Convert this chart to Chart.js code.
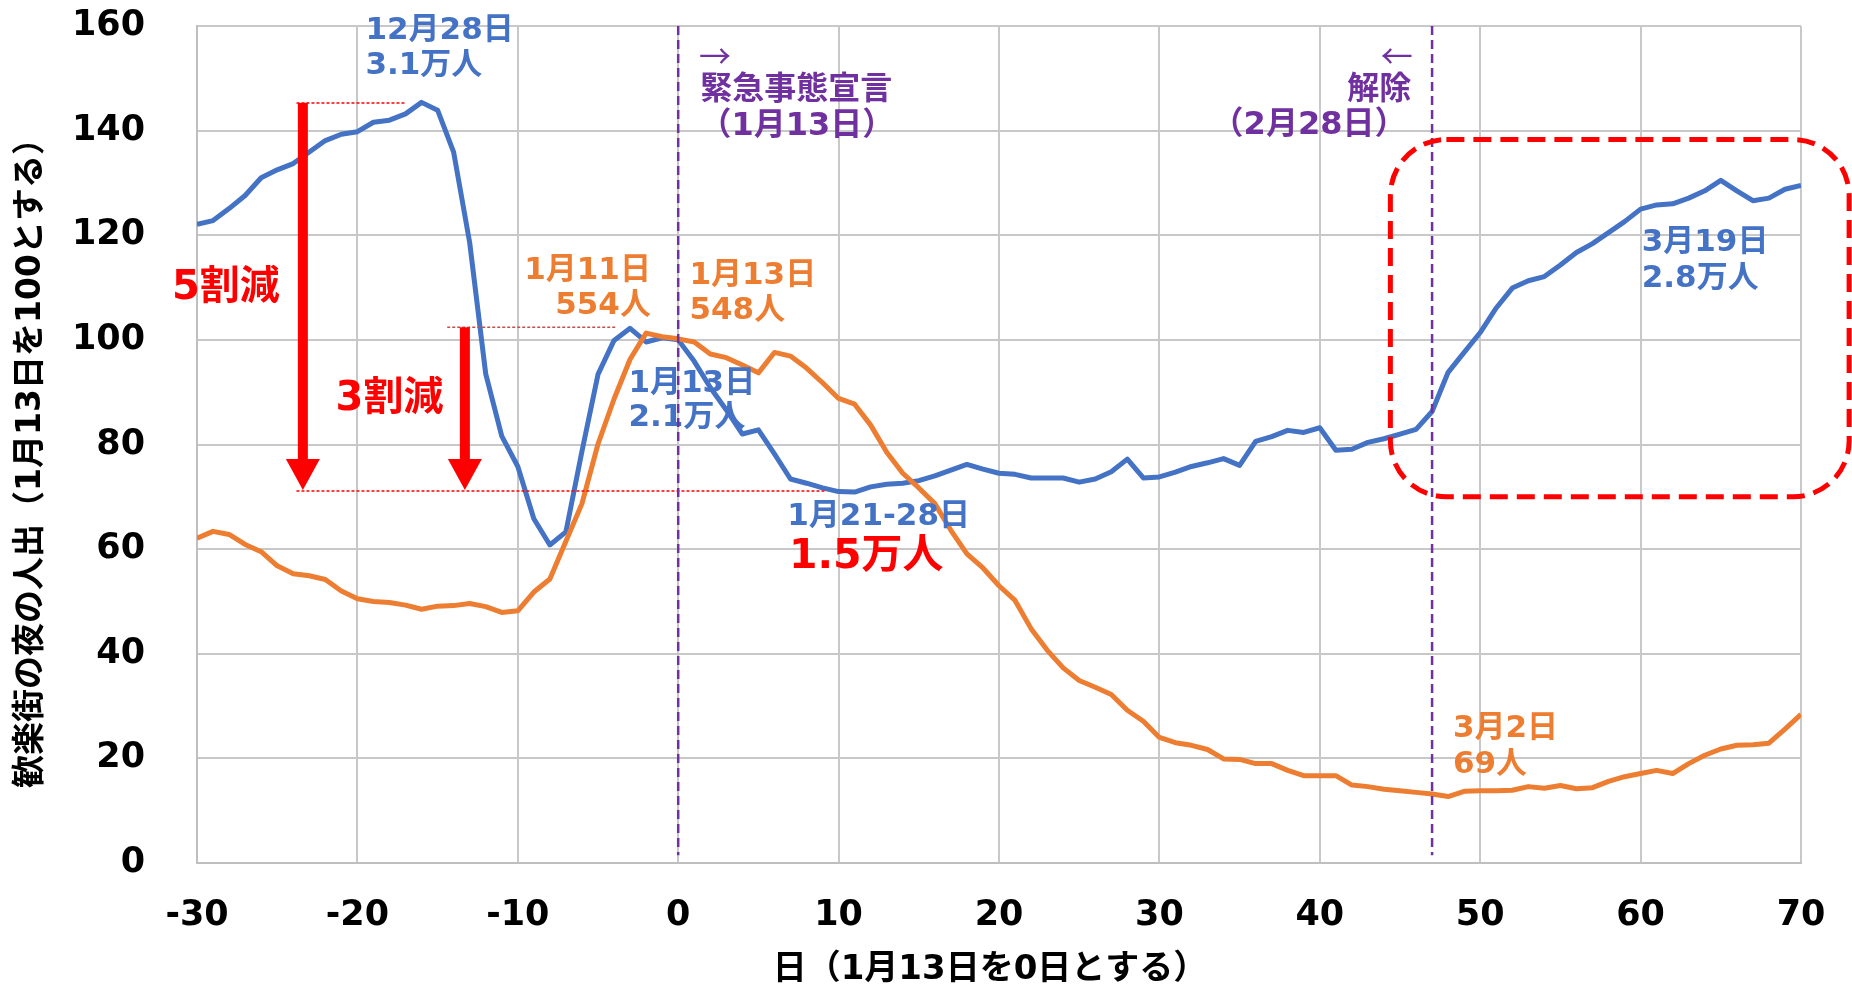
<!DOCTYPE html>
<html>
<head>
<meta charset="utf-8">
<script src="https://cdn.jsdelivr.net/npm/chart.js@4.4.0/dist/chart.umd.min.js"></script>
<style>
  html, body { margin: 0; padding: 0; background: #fff; }
</style>
</head>
<body>
<canvas id="nightChart" width="1852" height="989"></canvas>
<script>
// days relative to Jan 13 (day 0)
const days = [
  -30, -29, -28, -27, -26, -25, -24, -23, -22, -21,
  -20, -19, -18, -17, -16, -15, -14, -13, -12, -11,
  -10, -9, -8, -7, -6, -5, -4, -3, -2, -1,
  0, 1, 2, 3, 4, 5, 6, 7, 8, 9,
  10, 11, 12, 13, 14, 15, 16, 17, 18, 19,
  20, 21, 22, 23, 24, 25, 26, 27, 28, 29,
  30, 31, 32, 33, 34, 35, 36, 37, 38, 39,
  40, 41, 42, 43, 44, 45, 46, 47, 48, 49,
  50, 51, 52, 53, 54, 55, 56, 57, 58, 59,
  60, 61, 62, 63, 64, 65, 66, 67, 68, 69,
  70
];

// blue: night crowd (index, Jan 13 = 100)
const crowdIndex = [
  122.1, 122.8, 125.1, 127.6, 131.0, 132.5, 133.7, 135.9, 138.1, 139.3,
  139.8, 141.6, 142.0, 143.2, 145.4, 143.9, 135.9, 118.6, 93.5, 81.6,
  75.8, 65.8, 60.8, 63.3, 78.7, 93.4, 99.9, 102.2, 99.6, 100.4,
  100.0, 95.9, 90.9, 86.6, 82.0, 82.8, 78.2, 73.4, 72.6, 71.7,
  71.0, 70.9, 71.9, 72.4, 72.6, 73.1, 74.0, 75.1, 76.2, 75.3,
  74.5, 74.3, 73.6, 73.6, 73.6, 72.8, 73.4, 74.8, 77.2, 73.6,
  73.8, 74.7, 75.8, 76.5, 77.3, 76.0, 80.6, 81.5, 82.7, 82.3,
  83.2, 78.9, 79.1, 80.4, 81.1, 82.0, 82.9, 86.3, 93.8, 97.6,
  101.4, 106.1, 109.9, 111.3, 112.1, 114.3, 116.7, 118.4, 120.5, 122.6,
  125.0, 125.8, 126.0, 127.1, 128.5, 130.5, 128.5, 126.6, 127.1, 128.8,
  129.5
];

// orange: infections (index, Jan 13 = 100)
const caseIndex = [
  62.1, 63.4, 62.8, 60.9, 59.5, 56.8, 55.3, 54.9, 54.2, 52.0,
  50.5, 50.0, 49.8, 49.3, 48.5, 49.1, 49.2, 49.6, 49.0, 47.9,
  48.2, 51.8, 54.3, 61.5, 68.7, 80.1, 88.7, 96.3, 101.3, 100.6,
  100.2, 99.6, 97.3, 96.6, 95.2, 93.7, 97.6, 96.9, 94.6, 91.8,
  88.8, 87.7, 83.7, 78.5, 74.5, 71.7, 68.7, 63.6, 59.1, 56.4,
  53.0, 50.2, 44.8, 40.7, 37.3, 34.9, 33.6, 32.2, 29.2, 27.1,
  24.0, 23.0, 22.5, 21.7, 19.9, 19.8, 19.0, 19.0, 17.7, 16.7,
  16.7, 16.7, 14.9, 14.6, 14.1, 13.8, 13.5, 13.2, 12.7, 13.7,
  13.8, 13.8, 13.9, 14.6, 14.3, 14.8, 14.2, 14.4, 15.6, 16.5,
  17.1, 17.7, 17.1, 19.0, 20.6, 21.8, 22.5, 22.6, 22.9, 25.6,
  28.4
];

const yTicks = [0, 20, 40, 60, 80, 100, 120, 140, 160];
const xTicks = [-30, -20, -10, 0, 10, 20, 30, 40, 50, 60, 70];
const eventDays = [0, 47];

const FONT = '"DejaVu Sans", "Noto Sans CJK JP", sans-serif';
const BLUE = '#4472C4', ORANGE = '#ED7D31', RED = '#FF0000', PURPLE = '#7030A0';

// text callouts: [text, day, value, colour, size, align]
const callouts = [
  ['12月28日', -19.5, 159.1, BLUE, 31, 'left'],
  ['3.1万人', -19.5, 152.3, BLUE, 31, 'left'],
  ['5割減', -28.2, 109.8, RED, 40, 'center'],
  ['3割減', -18.0, 88.5, RED, 40, 'center'],
  ['1月11日', -1.7, 113.2, ORANGE, 31, 'right'],
  ['554人', -1.7, 106.5, ORANGE, 31, 'right'],
  ['1月13日', 0.7, 112.2, ORANGE, 31, 'left'],
  ['548人', 0.7, 105.6, ORANGE, 31, 'left'],
  ['1月13日', -3.1, 91.6, BLUE, 31, 'left'],
  ['2.1万人', -3.1, 85.0, BLUE, 31, 'left'],
  ['1月21-28日', 6.8, 66.2, BLUE, 31, 'left'],
  ['1.5万人', 6.9, 58.5, RED, 41, 'left'],
  ['緊急事態宣言', 7.36, 147.7, PURPLE, 32, 'center'],
  ['（1月13日）', 7.4, 140.7, PURPLE, 32, 'center'],
  ['解除', 45.7, 147.7, PURPLE, 32, 'right'],
  ['（2月28日）', 45.4, 140.9, PURPLE, 32, 'right'],
  ['3月19日', 60.07, 118.6, BLUE, 31, 'left'],
  ['2.8万人', 60.07, 111.7, BLUE, 31, 'left'],
  ['3月2日', 48.3, 25.6, ORANGE, 31, 'left'],
  ['69人', 48.3, 18.8, ORANGE, 31, 'left']
];

const notesPlugin = {
  id: 'notes',
  afterDraw(chart) {
    const { ctx, scales: { x, y } } = chart;
    const px = d => x.getPixelForValue(d);
    const py = v => y.getPixelForValue(v);
    ctx.save();

    // red dotted reference lines
    ctx.lineWidth = 1.5;
    ctx.setLineDash([3, 2]);
    const hline = (d1, d2, v, col) => {
      ctx.strokeStyle = col;
      ctx.beginPath(); ctx.moveTo(px(d1), py(v)); ctx.lineTo(px(d2), py(v)); ctx.stroke();
    };
    hline(-23.8, -17.0, 145.3, RED);
    hline(-14.4, -3.9, 102.4, '#C0504D');
    hline(-23.8, 9.25, 71.1, RED);
    ctx.setLineDash([]);

    // red arrows
    const arrow = (d, vTop, vTip) => {
      const cx = px(d), yTop = py(vTop), yTip = py(vTip);
      ctx.fillStyle = RED;
      ctx.fillRect(cx - 5, yTop, 10, yTip - yTop - 28);
      ctx.beginPath();
      ctx.moveTo(cx - 17, yTip - 31); ctx.lineTo(cx + 17, yTip - 31); ctx.lineTo(cx, yTip);
      ctx.closePath(); ctx.fill();
    };
    arrow(-23.4, 145.3, 71.3);
    arrow(-13.3, 102.4, 71.3);

    // callout texts
    ctx.textBaseline = 'middle';
    callouts.forEach(([t, d, v, col, size, align]) => {
      ctx.font = `bold ${size}px ${FONT}`;
      ctx.fillStyle = col;
      ctx.textAlign = align;
      ctx.fillText(t, px(d), py(v));
    });
    ctx.font = '32px "Noto Sans CJK JP", sans-serif';
    ctx.fillStyle = PURPLE;
    ctx.textAlign = 'left';
    ctx.fillText('→', px(1.3), py(154.2));
    ctx.textAlign = 'right';
    ctx.fillText('←', px(45.8), py(154.3));

    // purple event lines
    ctx.strokeStyle = PURPLE;
    ctx.lineWidth = 2.5;
    ctx.setLineDash([9, 5]);
    eventDays.forEach(d => {
      ctx.beginPath(); ctx.moveTo(px(d), py(160)); ctx.lineTo(px(d), py(1.5)); ctx.stroke();
    });

    // red dashed rounded box
    const l = px(44.4), r = px(73.0), t = py(138.3), b = py(70.0), rad = 56;
    ctx.strokeStyle = RED;
    ctx.lineWidth = 5;
    ctx.setLineDash([18, 9]);
    ctx.beginPath();
    ctx.moveTo(l + rad, t);
    ctx.arcTo(r, t, r, b, rad);
    ctx.arcTo(r, b, l, b, rad);
    ctx.arcTo(l, b, l, t, rad);
    ctx.arcTo(l, t, r, t, rad);
    ctx.closePath();
    ctx.stroke();
    ctx.setLineDash([]);

    // axis titles
    ctx.fillStyle = '#000';
    ctx.textAlign = 'center';
    ctx.textBaseline = 'middle';
    ctx.font = `bold 34px ${FONT}`;
    ctx.fillText('日（1月13日を0日とする）', 990, 970);
    ctx.font = `bold 33px ${FONT}`;
    ctx.translate(31, 455);
    ctx.rotate(-Math.PI / 2);
    ctx.fillText('歓楽街の夜の人出（1月13日を100とする）', 0, 0);
    ctx.restore();
  }
};

const ctx = document.getElementById('nightChart').getContext('2d');
const nightChart = new Chart(ctx, {
  type: 'line',
  data: {
    labels: days,
    datasets: [{
      label: '感染者',
      data: days.map((d, i) => ({ x: d, y: caseIndex[i] })),
      borderColor: ORANGE,
      borderWidth: 5,
      pointRadius: 0,
      borderJoinStyle: 'round',
      fill: false,
      order: 0
    }, {
      label: '人出',
      data: days.map((d, i) => ({ x: d, y: crowdIndex[i] })),
      borderColor: BLUE,
      borderWidth: 5,
      pointRadius: 0,
      borderJoinStyle: 'round',
      fill: false,
      order: 1
    }]
  },
  options: {
    responsive: false,
    animation: false,
    layout: { padding: { top: 26, right: 51, left: 0, bottom: 0 } },
    plugins: {
      legend: { display: false },
      tooltip: { enabled: false }
    },
    scales: {
      x: {
        type: 'linear',
        min: -30,
        max: 70,
        afterFit: s => { s.height = 126; s.paddingLeft = 0; s.paddingRight = 0; },
        afterBuildTicks: s => { s.ticks = xTicks.map(v => ({ value: v })); },
        grid: { color: '#c8c8c8', lineWidth: 2, drawTicks: false },
        border: { color: '#bfbfbf', width: 2 },
        ticks: {
          color: '#000',
          padding: 32,
          maxRotation: 0,
          font: { family: FONT, size: 35, weight: 'bold' }
        }
      },
      y: {
        min: 0,
        max: 160,
        afterFit: s => { s.width = 197; s.paddingTop = 0; s.paddingBottom = 0; },
        afterBuildTicks: s => { s.ticks = yTicks.map(v => ({ value: v })); },
        grid: { color: '#c8c8c8', lineWidth: 2, drawTicks: false },
        border: { color: '#bfbfbf', width: 2 },
        ticks: {
          color: '#000',
          padding: 52,
          font: { family: FONT, size: 35, weight: 'bold' }
        }
      }
    }
  },
  plugins: [notesPlugin]
});
</script>
</body>
</html>
